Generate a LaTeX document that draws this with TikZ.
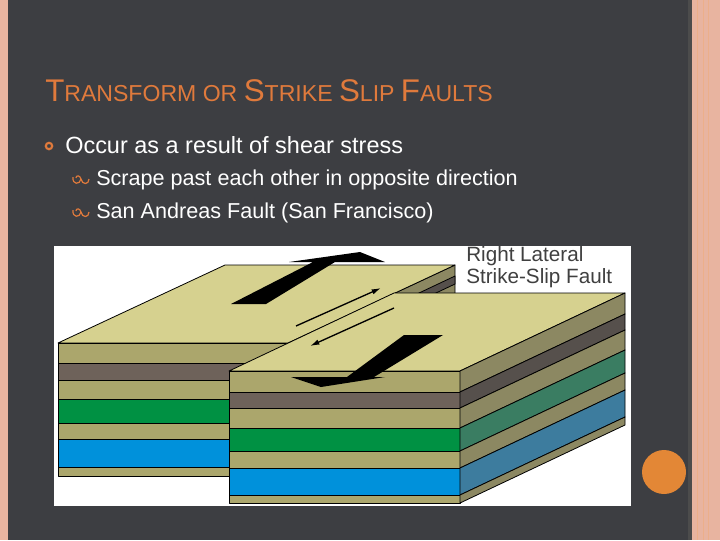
\documentclass[tikz,border=0pt]{standalone}
\usepackage{fontspec}
\usetikzlibrary{arrows.meta}
\setmainfont{Liberation Sans}
\definecolor{bg}{HTML}{3D3E42}
\definecolor{pinkb}{HTML}{E8B4A0}
\definecolor{orng}{HTML}{E07A3C}
\definecolor{topk}{HTML}{D6D18F}
\definecolor{khk}{HTML}{ABA66C}
\definecolor{brn}{HTML}{6E625A}
\definecolor{grn}{HTML}{009143}
\definecolor{blu}{HTML}{0091DB}
\definecolor{skhk}{HTML}{8C8862}
\definecolor{sbrn}{HTML}{56504C}
\definecolor{sgrn}{HTML}{3A7D62}
\definecolor{sblu}{HTML}{3D7C9E}
\tikzset{lay/.style={draw=black,line width=0.6pt,line join=round},
 txt/.style={text=white,anchor=base west,inner sep=0pt}}
\newcommand{\curlb}[2]{\draw[orng,line width=0.9pt] (#1-8,#2-3) .. controls (#1-9,#2+5) and (#1-1,#2+5) .. (#1,#2-1) .. controls (#1+1,#2+5) and (#1+8,#2+5) .. (#1+8,#2-1) (#1,#2-1) .. controls (#1-1,#2-5) and (#1-5,#2-5) .. (#1-5,#2-2);}
\begin{document}
\begin{tikzpicture}[x=0.75pt,y=-0.75pt]
\fill[bg] (0,0) rectangle (720,540);
\useasboundingbox (0,0) rectangle (720,540);
\fill[pinkb] (0,0) rectangle (8,540);
\fill[pinkb] (692,0) rectangle (720,540);
\fill[black!70] (688,0) rectangle (692,540);
\draw[orng!60,line width=0.6pt] (697,0)--(697,540) (703,0)--(703,540) (708,0)--(708,540);
\fill[orng!90!yellow] (664,472) circle (22);
% title
\node[anchor=base west,inner sep=0pt,text=orng] (title) at (45,101) {\fontsize{23.5pt}{26pt}\selectfont T\fontsize{17.3pt}{20pt}\selectfont RANSFORM OR \fontsize{23.5pt}{26pt}\selectfont S\fontsize{17.3pt}{20pt}\selectfont TRIKE \fontsize{23.5pt}{26pt}\selectfont S\fontsize{17.3pt}{20pt}\selectfont LIP \fontsize{23.5pt}{26pt}\selectfont F\fontsize{17.3pt}{20pt}\selectfont AULTS};
\draw[orng,line width=1.6pt] (49,146) circle (3.2);
\node[txt] (b1) at (65,153) {\fontsize{17.6pt}{20pt}\selectfont Occur as a result of shear stress};
\curlb{81}{180}
\node[txt] (b2) at (96,185) {\fontsize{16.2pt}{18pt}\selectfont Scrape past each other in opposite direction};
\curlb{81}{213}
\node[txt] (b3) at (96,218) {\fontsize{16.2pt}{18pt}\selectfont San Andreas Fault (San Francisco)};
% picture
\fill[white] (54,246) rectangle (631,506);
% left block side
\filldraw[lay,fill=skhk] (288,343)--(455,265)--(455,398)--(288,476)--cycle;
% left block top
\filldraw[lay,fill=topk] (58,343)--(225,265)--(455,265)--(288,343)--cycle;
% left block front layers
\foreach \a/\b/\c in {343/363/khk,363/380/brn,380/399/khk,399/423/grn,423/439/khk,439/467/blu,467/476/khk}
 \filldraw[lay,fill=\c] (58,\a) rectangle (288,\b);
% dark stripes in left side visible part
\filldraw[lay,fill=sbrn] (400,302)--(455,276)--(455,284)--(400,310)--cycle;
% right block top
\filldraw[lay,fill=topk] (229,371)--(394,293)--(625,293)--(460,371)--cycle;
% right block front
\foreach \a/\b/\c in {371/392/khk,392/408/brn,408/428/khk,428/451/grn,451/468/khk,468/495/blu,495/503/khk}
 \filldraw[lay,fill=\c] (229,\a) rectangle (460,\b);
% right block side
\foreach \a/\b/\c in {371/392/skhk,392/408/sbrn,408/428/skhk,428/451/sgrn,451/468/skhk,468/495/sblu,495/503/skhk}
 \filldraw[lay,fill=\c] (460,\a)--(625,\a-78)--(625,\b-78)--(460,\b)--cycle;
% big arrows
\fill[black] (231,304)--(266,304)--(335,262)--(385,262)--(360,252)--(289,262)--(313,262)--cycle;
\fill[black] (443,335)--(404,335)--(347,377)--(291,377)--(321,387)--(385,377)--(374,377)--cycle;
% thin arrows
\coordinate (a1) at (296,326); \coordinate (a2) at (381,288);
\coordinate (a3) at (394,308); \coordinate (a4) at (310,346);
\draw[line width=1pt,-{Latex[length=7pt,width=4pt]}] (a1)--(a2);
\draw[line width=1pt,-{Latex[length=7pt,width=4pt]}] (a3)--(a4);
\node[anchor=north west,inner sep=0pt,align=left,text=black!75,font=\fontsize{15.5pt}{17pt}\selectfont] (lbl) at (466,246) {Right Lateral\\Strike-Slip Fault};
\end{tikzpicture}
\end{document}
